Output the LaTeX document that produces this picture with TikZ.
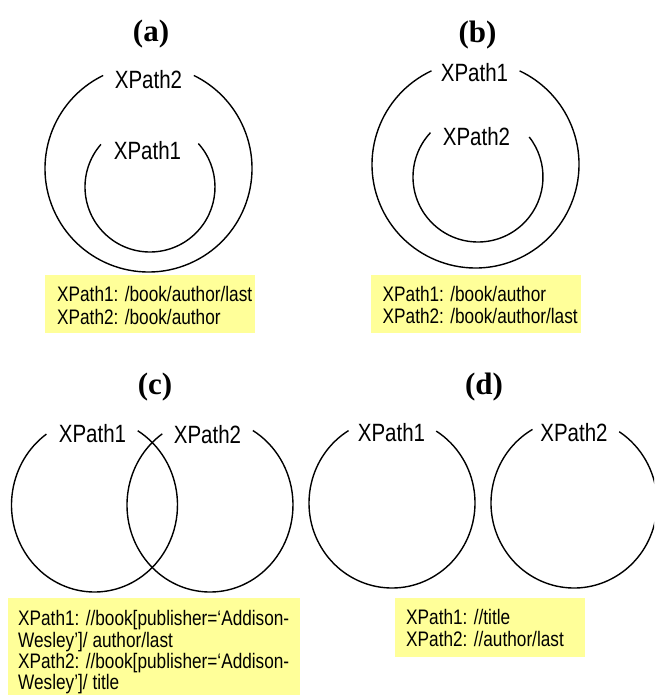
\documentclass[tikz,border=0pt]{standalone}
\usepackage{fontspec}
\setmainfont{Liberation Serif}
\newfontfamily\lblfont[FakeStretch=0.82]{Liberation Sans}
\definecolor{noteyellow}{RGB}{255,255,153}
\begin{document}
\begin{tikzpicture}[x=1pt,y=1pt,
  paneltitle/.style={font=\fontsize{31}{31}\selectfont\bfseries, inner sep=0},
  setlabel/.style={font=\lblfont\fontsize{25}{25}\selectfont, inner sep=0},
  note/.style={fill=noteyellow, draw=none, inner sep=0, anchor=north west},
  noteline/.style={font=\lblfont\fontsize{21}{23}\selectfont, inner sep=0, anchor=base west},
  setline/.style={line width=1.4pt}]
\clip (0,0) rectangle (654,-695);
\fill[white] (0,0) rectangle (654,-695);

% ---------- titles
\node[paneltitle] (ta) at (151,-34) {(a)};
\node[paneltitle] (tb) at (477.5,-35) {(b)};
\node[paneltitle] (tc) at (155,-387) {(c)};
\node[paneltitle] (td) at (484,-387) {(d)};

% ---------- centres
\coordinate (aout) at (148.5,-168.5);
\coordinate (ain)  at (150,-187);
\coordinate (bout) at (475.5,-164.5);
\coordinate (bin)  at (478,-177);
\coordinate (cone) at (94.5,-505);
\coordinate (ctwo) at (210,-505);
\coordinate (done) at (392,-503);
\coordinate (dtwo) at (574,-503);

% ---------- (a)
\draw[setline] ([shift={(116:103.5)}]aout) arc[start angle=116, end angle=424, radius=103.5];
\draw[setline] ([shift={(139:65)}]ain) arc[start angle=139, end angle=402, radius=65];
\node[setlabel] (a2) at (148.5,-79.5) {XPath2};
\node[setlabel] (a1) at (147.5,-151) {XPath1};

% ---------- (b)
\draw[setline] ([shift={(115.2:103.5)}]bout) arc[start angle=115.2, end angle=424.8, radius=103.5];
\draw[setline] ([shift={(137:65)}]bin) arc[start angle=137, end angle=398, radius=65];
\node[setlabel] (b1) at (474.5,-72.5) {XPath1};
\node[setlabel] (b2) at (476.5,-136.5) {XPath2};

% ---------- (c)
\draw[setline] ([shift={(125.4:83 and 87)}]cone) arc[start angle=125.4, end angle=418.6, x radius=83, y radius=87];
\draw[setline] ([shift={(125.1:83 and 87)}]ctwo) arc[start angle=125.1, end angle=418.9, x radius=83, y radius=87];
\node[setlabel] (c1) at (92.5,-433.5) {XPath1};
\node[setlabel] (c2) at (207.5,-435) {XPath2};

% ---------- (d)
\draw[setline] ([shift={(121.6:83 and 85)}]done) arc[start angle=121.6, end angle=417.8, x radius=83, y radius=85];
\draw[setline] ([shift={(120:83 and 85)}]dtwo) arc[start angle=120, end angle=417, x radius=83, y radius=85];
\node[setlabel] (d1) at (391.5,-433) {XPath1};
\node[setlabel] (d2) at (574,-433) {XPath2};

% ---------- notes
\node[note, minimum width=210, minimum height=58] (notea) at (45,-275) {};
\node[noteline] (na1) at (57,-301.5) {XPath1: /book/author/last};
\node[noteline] (na2) at (57,-324) {XPath2: /book/author};

\node[note, minimum width=210, minimum height=58] (noteb) at (371,-275) {};
\node[noteline] (nb1) at (382.5,-301) {XPath1: /book/author};
\node[noteline] (nb2) at (382.5,-323.5) {XPath2: /book/author/last};

\node[note, minimum width=292, minimum height=97] (notec) at (8,-598) {};
\node[noteline] (nc1) at (18,-625) {XPath1: //book[publisher=‘Addison-};
\node[noteline] (nc2) at (18,-647) {Wesley’]/ author/last};
\node[noteline] (nc3) at (18,-668.5) {XPath2: //book[publisher=‘Addison-};
\node[noteline] (nc4) at (18,-689.5) {Wesley’]/ title};

\node[note, minimum width=190, minimum height=59] (noted) at (395,-598) {};
\node[noteline] (nd1) at (406,-624) {XPath1: //title};
\node[noteline] (nd2) at (406,-646.5) {XPath2: //author/last};
\end{tikzpicture}
\end{document}
